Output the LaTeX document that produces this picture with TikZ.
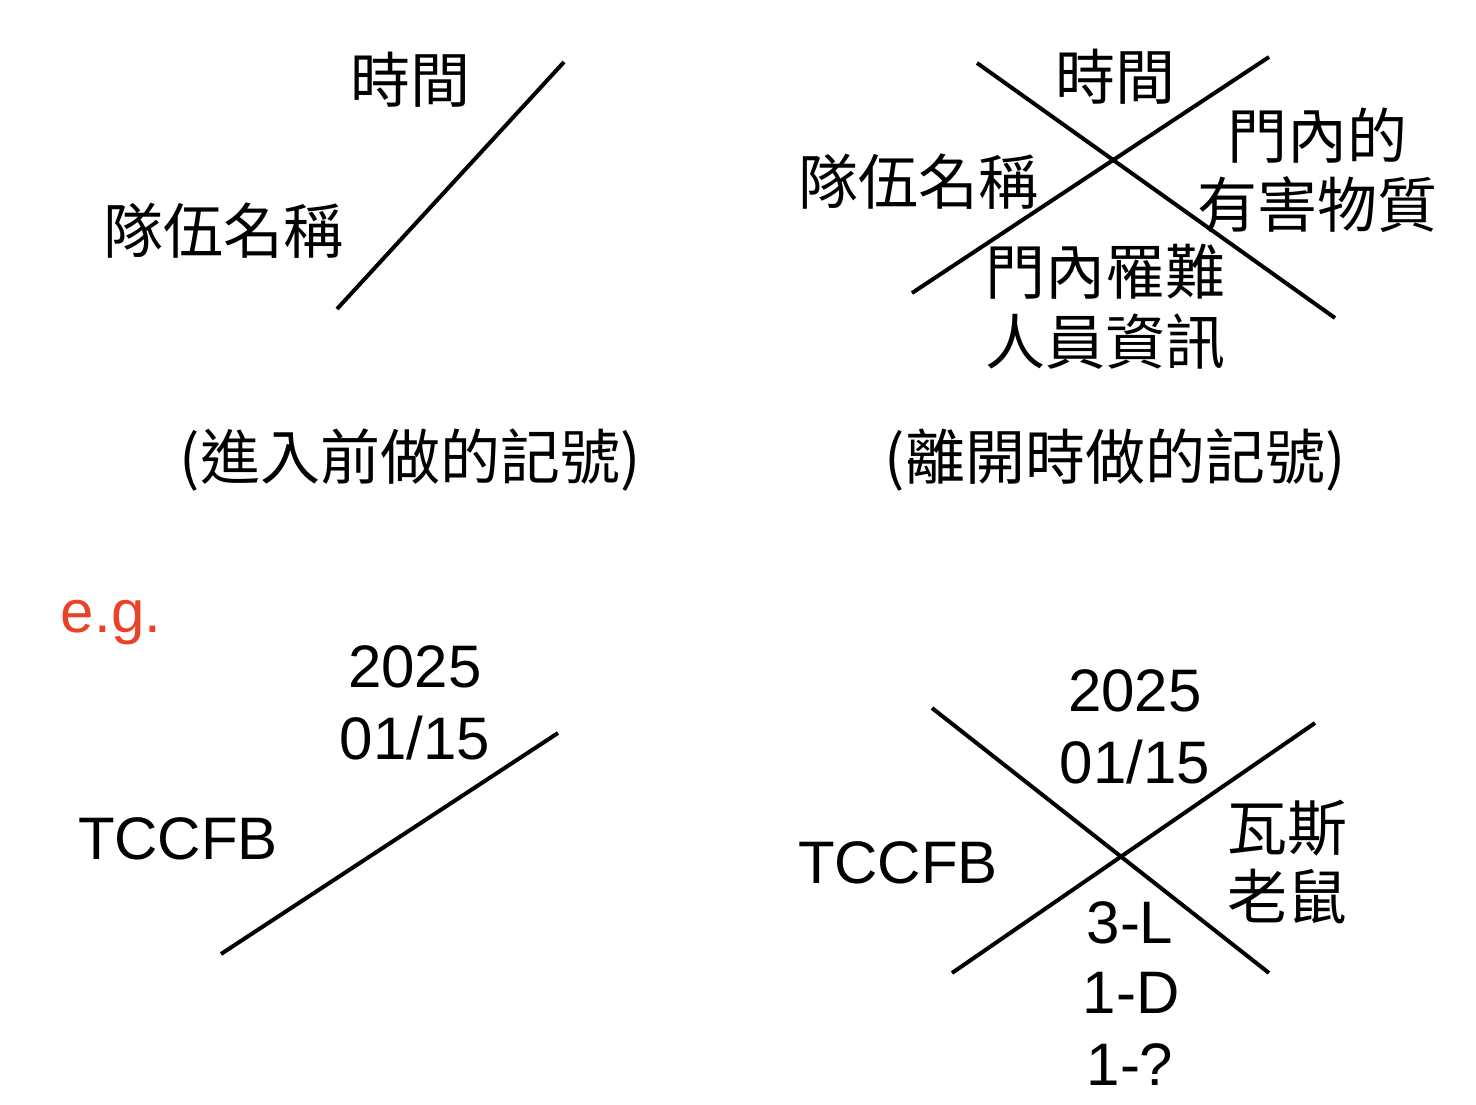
\documentclass[tikz,border=0pt]{standalone}
\usepackage{fontspec}
\setmainfont{Liberation Sans}
\newfontfamily\cjk{Noto Sans CJK TC}
\definecolor{egred}{RGB}{233,66,40}
\begin{document}
\begin{tikzpicture}[x=1pt,y=-1pt,
  zh/.style={font=\cjk\fontsize{60}{70}\selectfont,inner sep=0pt,anchor=center},
  la/.style={font=\fontsize{60}{72}\selectfont,inner sep=0pt,anchor=base},
  stroke/.style={line width=4pt,black}]
\useasboundingbox (0,0) rectangle (1476,1104);
% top-left
\coordinate (a1) at (337,309); \coordinate (a2) at (564,62);
\draw[stroke] (a1) -- (a2);
\node[zh] (tlTime) at (410,80) {時間};
\node[zh] (tlTeam) at (223,231) {隊伍名稱};
\node[zh] (tlCap) at (410,460) {(進入前做的記號)};
% top-right
\coordinate (b1) at (977,63); \coordinate (b2) at (1335,318);
\coordinate (b3) at (912,293); \coordinate (b4) at (1269,57);
\draw[stroke] (b1) -- (b2);
\draw[stroke] (b3) -- (b4);
\node[zh] (trTime) at (1115,77) {時間};
\node[zh] (trTeam) at (918,182) {隊伍名稱};
\node[zh] (trHaz1) at (1317,136) {門內的};
\node[zh] (trHaz2) at (1317,205) {有害物質};
\node[zh] (trVic1) at (1105,272) {門內罹難};
\node[zh] (trVic2) at (1105,342) {人員資訊};
\node[zh] (trCap) at (1115,460) {(離開時做的記號)};
% e.g.
\node[la,text=egred] (eg) at (111,632) {e.g.};
% bottom-left
\coordinate (c1) at (221,954); \coordinate (c2) at (558,733);
\draw[stroke] (c1) -- (c2);
\node[la] (blY) at (415,687) {2025};
\node[la] (blD) at (415,759) {01/15};
\node[la] (blT) at (178,859) {TCCFB};
% bottom-right
\coordinate (d1) at (932,708); \coordinate (d2) at (1269,973);
\coordinate (d3) at (952,973); \coordinate (d4) at (1315,723);
\draw[stroke] (d1) -- (d2);
\draw[stroke] (d3) -- (d4);
\node[la] (brY) at (1135,711) {2025};
\node[la] (brD) at (1135,783) {01/15};
\node[la] (brT) at (898,883) {TCCFB};
\node[zh] (brG1) at (1287,828) {瓦斯};
\node[zh] (brG2) at (1287,897) {老鼠};
\node[la] (brL1) at (1130,943) {3-L};
\node[la] (brL2) at (1131,1013) {1-D};
\node[la] (brL3) at (1130,1085) {1-?};
\end{tikzpicture}
\end{document}
